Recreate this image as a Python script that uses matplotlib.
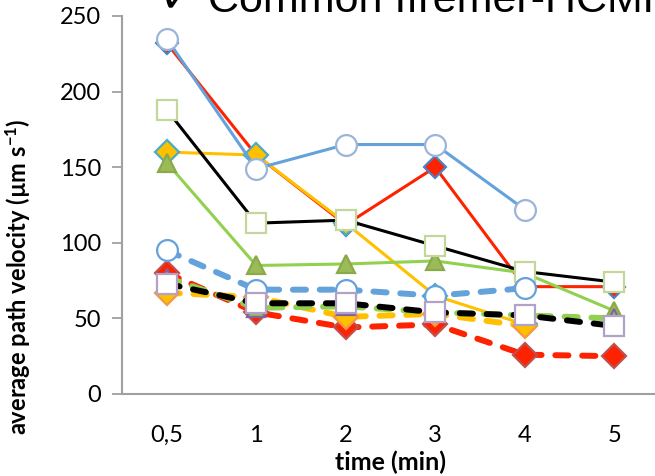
import numpy as np
import matplotlib.pyplot as plt

plt.rcParams['font.family'] = ['Lato', 'DejaVu Sans']
plt.rcParams['mathtext.fontset'] = 'custom'
plt.rcParams['mathtext.bf'] = 'Lato:bold'
plt.rcParams['mathtext.default'] = 'bf'

times = ['0,5', '1', '2', '3', '4', '5']

# solid series
blue_solid = [235, 149, 165, 165, 122, np.nan]
red_solid = [232, 158, 112, 150, 71, 71]
yellow_solid = [160, 158, 113, 65, 46, np.nan]
green_solid = [153, 85, 86, 88, 80, 55]
black_solid = [188, 113, 115, 98, 81, 74]

# dashed series
blue_dash = [95, 69, 69, 65, 70, np.nan]
red_dash = [80, 54, 44, 46, 26, 25]
yellow_dash = [67, 64, 51, 53, 45, np.nan]
green_dash = [77, 57, 58, 54, 52, 50]
black_dash = [73, 60, 60, 54, 52, 45]

x = np.arange(len(times))

fig = plt.figure(figsize=(6.55, 4.76), dpi=100)
ax = fig.add_axes([122/655, 1-394/476, 537/655, 378/476])

lw_s = 2.2
lw_d = 4.3
dash = (2.2, 2.3)

def solid(vals, col, mk, fc, ec, ms):
    ax.plot(x, vals, color=col, lw=lw_s, marker=mk, ms=ms, mfc=fc, mec=ec, mew=1.6)

def dashed(vals, col, mk, fc, ec, ms):
    ln, = ax.plot(x, vals, color=col, lw=lw_d, marker=mk, ms=ms, mfc=fc, mec=ec, mew=1.6,
                  dash_capstyle='round')
    ln.set_dashes(dash)

solid(red_solid, '#FF2200', 'D', '#FF2200', '#4F81BD', 11)
solid(yellow_solid, '#FFC000', 'D', '#FFC000', '#4BACC6', 12)
solid(green_solid, '#92D050', '^', '#9BBB59', '#8AAA4A', 13)
solid(blue_solid, '#64A2DC', 'o', 'white', '#9BB5DA', 15)
solid(black_solid, 'black', 's', 'white', '#C4D79B', 14)

dashed(red_dash, '#FF2200', 'D', '#FF2200', '#C0504D', 12)
dashed(yellow_dash, '#FFC000', 'D', '#FFC000', '#F79646', 12)
dashed(green_dash, '#92D050', '^', '#9BBB59', '#8064A2', 13)
dashed(blue_dash, '#64A2DC', 'o', 'white', '#64A2DC', 15)
dashed(black_dash, 'black', 's', 'white', '#B3A2C7', 14)

ax.set_xlim(-0.5, 5.5)
ax.set_ylim(0, 250)
ax.set_yticks([0, 50, 100, 150, 200, 250])
ax.set_xticks(x)
ax.set_xticklabels(times)
ax.tick_params(axis='y', length=7, width=1.3, color='#A0A0A0', labelsize=17, pad=8)
ax.tick_params(axis='x', length=0, labelsize=17, pad=22)
for s in ['top', 'right']:
    ax.spines[s].set_visible(False)
for s in ['left', 'bottom']:
    ax.spines[s].set_color('#A0A0A0')
    ax.spines[s].set_linewidth(1.5)

ax.set_xlabel('time (min)', fontsize=18, fontweight='bold')
ax.xaxis.set_label_coords(0.5, -0.15)
ax.set_ylabel('average path velocity (µm s$^{-1}$)', fontsize=17, fontweight='bold')
ax.yaxis.set_label_coords(-0.165, 0.31)

fig.text(160/655, 1-12/476, '✓ Common Ifremer-HCMR', fontsize=31, va='baseline',
         family=['Liberation Sans', 'DejaVu Sans'])

fig.savefig('out.png', dpi=100)
